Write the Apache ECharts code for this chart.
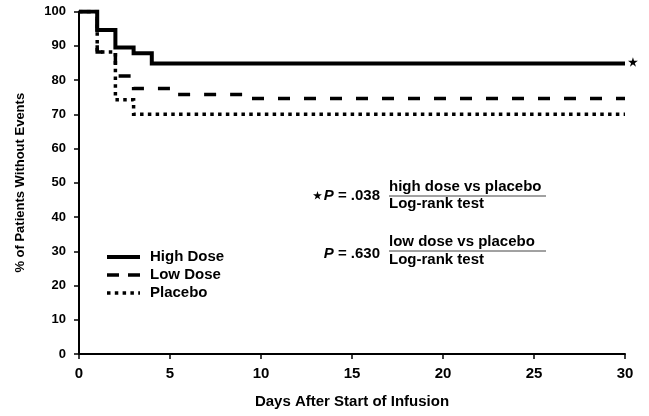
<!DOCTYPE html>
<html>
<head>
<meta charset="utf-8">
<script src="https://cdn.jsdelivr.net/npm/echarts@6/dist/echarts.min.js"></script>
<style>html,body{margin:0;padding:0;background:#fff}#c{width:649px;height:416px}</style>
</head>
<body>
<div id="c"></div>
<script>
// Kaplan-Meier style step data: [day, % without events]
const highDays   = [0, 1, 2, 3, 4, 30];
const highVals   = [100, 94.6, 89.5, 87.8, 84.8, 84.8];
const lowDays    = [0, 1, 2, 3, 5, 9.5, 30];
const lowVals    = [100, 88.2, 81.2, 77.5, 75.8, 74.6, 74.6];
const placDays   = [0, 1, 2, 3, 30];
const placVals   = [100, 88.2, 74.2, 70, 70];
const xTicks = [0, 5, 10, 15, 20, 25, 30];
const yTicks = [0, 10, 20, 30, 40, 50, 60, 70, 80, 90, 100];
const seriesNames = ['High Dose', 'Low Dose', 'Placebo'];
const annot1 = ['high dose vs placebo', 'Log-rank test', '.038'];
const annot2 = ['low dose vs placebo', 'Log-rank test', '.630'];

const FF = '"Liberation Sans", Arial, Helvetica, sans-serif';
const pair = (xs, ys) => xs.map((x, i) => [x, ys[i]]);

const chart = echarts.init(document.getElementById('c'));
const axisCommon = {
  axisLine: { show: true, lineStyle: { color: '#000', width: 2 } },
  axisTick: { show: true, inside: false, length: 5, lineStyle: { color: '#000', width: 1.5 } },
  splitLine: { show: false },
  axisLabel: { color: '#000', fontFamily: FF, fontWeight: 'bold', fontSize: 13 },
  nameTextStyle: { color: '#000', fontFamily: FF, fontWeight: 'bold', fontSize: 13 }
};
const lineSeries = (name, data, ls) => ({
  name, type: 'line', step: 'end', data, showSymbol: false, symbol: 'none',
  animation: false, silent: true,
  lineStyle: Object.assign({ color: '#000', cap: 'butt', join: 'miter' }, ls)
});
const T15 = 'bold 15px ' + FF;

chart.setOption({
  animation: false,
  backgroundColor: '#fff',
  grid: { left: 79, right: 24, top: 11.5, bottom: 62, containLabel: false },
  xAxis: Object.assign({}, axisCommon, {
    type: 'value', min: 0, max: 30, interval: 5,
    name: 'Days After Start of Infusion', nameLocation: 'middle', nameGap: 40,
    nameTextStyle: Object.assign({}, axisCommon.nameTextStyle, { fontSize: 15 }),
    axisLabel: Object.assign({}, axisCommon.axisLabel, { margin: 12, fontSize: 15,
      formatter: v => xTicks.includes(v) ? String(v) : '' })
  }),
  yAxis: Object.assign({}, axisCommon, {
    type: 'value', min: 0, max: 100, interval: 10,
    name: '% of Patients Without Events', nameLocation: 'middle', nameGap: 52,
    axisLabel: Object.assign({}, axisCommon.axisLabel, { margin: 13,
      formatter: v => yTicks.includes(v) ? String(v) : '' })
  }),
  series: [
    lineSeries(seriesNames[2], pair(placDays, placVals), { width: 3.5, type: [3.5, 4.3] }),
    lineSeries(seriesNames[1], pair(lowDays, lowVals), { width: 3.5, type: [12, 14] }),
    lineSeries(seriesNames[0], pair(highDays, highVals), { width: 4, type: 'solid' })
  ],
  graphic: [
    // star after the high dose line
    { type: 'text', left: 628, top: 57, style: { text: '★', font: 'bold 11px ' + FF, fill: '#000' } },
    // legend
    { type: 'line', shape: { x1: 107, y1: 257, x2: 140, y2: 257 }, style: { stroke: '#000', lineWidth: 4 } },
    { type: 'line', shape: { x1: 107, y1: 275, x2: 140, y2: 275 }, style: { stroke: '#000', lineWidth: 3.5, lineDash: [12, 9] } },
    { type: 'line', shape: { x1: 107, y1: 293, x2: 140, y2: 293 }, style: { stroke: '#000', lineWidth: 3.5, lineDash: [3.5, 4.3] } },
    { type: 'text', x: 150, y: 257, style: { text: seriesNames[0], font: T15, fill: '#000', verticalAlign: 'middle' } },
    { type: 'text', x: 150, y: 275, style: { text: seriesNames[1], font: T15, fill: '#000', verticalAlign: 'middle' } },
    { type: 'text', x: 150, y: 293, style: { text: seriesNames[2], font: T15, fill: '#000', verticalAlign: 'middle' } },
    // annotation 1
    { type: 'text', x: 380, y: 196, style: {
        text: '{s|★}{p|P}{t| = ' + annot1[2] + '}', align: 'right', verticalAlign: 'middle',
        rich: { s: { font: 'bold 10px ' + FF, fill: '#000', padding: [0, 2, 0, 0] },
                p: { font: 'italic bold 15px ' + FF, fill: '#000' },
                t: { font: T15, fill: '#000' } } } },
    { type: 'text', x: 389, y: 187, style: { text: annot1[0], font: T15, fill: '#000', verticalAlign: 'middle' } },
    { type: 'line', shape: { x1: 389, y1: 196, x2: 546, y2: 196 }, style: { stroke: '#444', lineWidth: 1 } },
    { type: 'text', x: 389, y: 204, style: { text: annot1[1], font: T15, fill: '#000', verticalAlign: 'middle' } },
    // annotation 2
    { type: 'text', x: 380, y: 254, style: {
        text: '{p|P}{t| = ' + annot2[2] + '}', align: 'right', verticalAlign: 'middle',
        rich: { p: { font: 'italic bold 15px ' + FF, fill: '#000' },
                t: { font: T15, fill: '#000' } } } },
    { type: 'text', x: 389, y: 242, style: { text: annot2[0], font: T15, fill: '#000', verticalAlign: 'middle' } },
    { type: 'line', shape: { x1: 389, y1: 251, x2: 546, y2: 251 }, style: { stroke: '#444', lineWidth: 1 } },
    { type: 'text', x: 389, y: 260, style: { text: annot2[1], font: T15, fill: '#000', verticalAlign: 'middle' } }
  ]
});
</script>
</body>
</html>
